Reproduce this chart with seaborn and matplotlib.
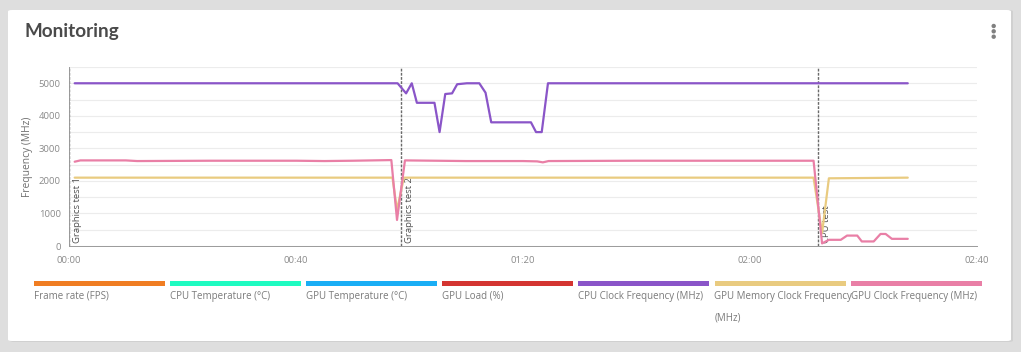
import matplotlib
matplotlib.use("Agg")
import matplotlib.pyplot as plt
from matplotlib.patches import FancyBboxPatch, Rectangle, Ellipse
import pandas as pd
import seaborn as sns

# series shown in the legend (order = draw order)
series_names = ["Frame rate (FPS)", "CPU Temperature (°C)", "GPU Temperature (°C)", "GPU Load (%)",
                "CPU Clock Frequency (MHz)", "GPU Memory Clock Frequency\n(MHz)", "GPU Clock Frequency (MHz)"]
series_colors = ["#f07d22", "#1ffbc1", "#1aaef5", "#d43531", "#8a55c8", "#e9cb80", "#e97fa6"]

# time in minutes
cpu_clock_t = [1, 57.9, 59.4, 60.4, 61.3, 64.4, 65.3, 66.3, 67.5, 68.4, 70.1, 72.3, 73.4, 74.4,
               81.4, 82.3, 83.3, 84.4, 147.8]
cpu_clock_v = [5000, 5000, 4690, 5000, 4400, 4400, 3500, 4670, 4690, 4970, 5000, 5000, 4710, 3800,
               3800, 3500, 3500, 5000, 5000]

gpu_mem_t = [1, 57.0, 57.8, 59.0, 131.2, 132.7, 133.9, 147.8]
gpu_mem_v = [2100, 2100, 1100, 2100, 2100, 400, 2080, 2100]

gpu_clock_t = [1, 2, 10, 12, 25, 40, 45, 50, 56.8, 57.8, 59.2, 70, 80, 82.5, 83.5, 84.5, 100, 120,
               131.2, 132.7, 133.9, 136, 137.1, 138.9, 139.7, 141.8, 143, 143.9, 145, 147.8]
gpu_clock_v = [2590, 2630, 2630, 2610, 2620, 2620, 2610, 2620, 2640, 800, 2630, 2610, 2610, 2600,
               2570, 2610, 2620, 2620, 2620, 80, 190, 190, 320, 320, 140, 140, 370, 370, 220, 220]

markers_t = [0, 58.5, 132.0]
markers_label = ["Graphics test 1", "Graphics test 2", "CPU test"]

x_ticks = [0, 40, 80, 120, 160]
x_ticklabels = ["00:00", "00:40", "01:20", "02:00", "02:40"]
y_ticks = [0, 1000, 2000, 3000, 4000, 5000]

frames = []
for name, t, v in [(series_names[4], cpu_clock_t, cpu_clock_v),
                   (series_names[5], gpu_mem_t, gpu_mem_v),
                   (series_names[6], gpu_clock_t, gpu_clock_v)]:
    frames.append(pd.DataFrame({"t": t, "v": v, "series": name}))
df = pd.concat(frames, ignore_index=True)

sns.set_style("white")
plt.rcParams["font.family"] = ["Open Sans", "DejaVu Sans"]

W, H = 1021, 352
fig = plt.figure(figsize=(W / 100, H / 100), dpi=100)
fig.patch.set_facecolor("#dedede")

# card
fig.patches.append(FancyBboxPatch((10 / W, 10 / H), 1003 / W, 332 / H,
                                  boxstyle="round,pad=0,rounding_size=0.004",
                                  transform=fig.transFigure, fc="#d0d0d0", ec="none", zorder=-2))
fig.patches.append(FancyBboxPatch((8 / W, 11 / H), 1003 / W, 331 / H,
                                  boxstyle="round,pad=0,rounding_size=0.004",
                                  transform=fig.transFigure, fc="white", ec="none", zorder=-1))

fig.text(24 / W, 1 - 32 / H, "Monitoring", fontsize=13.6, fontweight="bold", color="#4a4a4a",
         family=["Lato", "DejaVu Sans"], va="center", ha="left")
for yy in [26, 31.3, 36.7]:
    fig.patches.append(Ellipse((993.7 / W, 1 - yy / H), 4.4 / W, 4.4 / H, transform=fig.transFigure,
                               fc="#808080", ec="none"))

ax = fig.add_axes([69 / W, 1 - 246 / H, (977 - 69) / W, (246 - 67) / H])
ax.set_facecolor("none")

palette = dict(zip(series_names, series_colors))
sns.lineplot(data=df, x="t", y="v", hue="series", hue_order=series_names[4:], palette=palette,
             legend=False, sort=False, linewidth=1.6, ax=ax, zorder=3)

ax.set_xlim(0, 160)
ax.set_ylim(0, 5500)
ax.set_yticks(y_ticks)
ax.set_yticks(range(500, 5501, 1000), minor=True)
ax.set_xticks(x_ticks)
ax.set_xticklabels(x_ticklabels)
ax.grid(True, which="both", axis="y", color="#ececec", linewidth=0.8)
ax.tick_params(axis="both", labelsize=6.8, labelcolor="#8a8a8a", color="#9a9a9a", length=4, width=0.7)
ax.tick_params(axis="y", which="minor", length=0)
ax.tick_params(axis="x", pad=3)
ax.tick_params(axis="y", pad=2)
for s in ["top", "right"]:
    ax.spines[s].set_visible(False)
for s in ["left", "bottom"]:
    ax.spines[s].set_color("#9a9a9a")
    ax.spines[s].set_linewidth(0.7)
ax.set_xlabel("")
ax.set_ylabel("Frequency (MHz)", fontsize=7.4, color="#707070", labelpad=4)

for t, lab in zip(markers_t, markers_label):
    ax.axvline(t, color="#6a6a6a", linestyle=(0, (2, 1)), linewidth=1.0, zorder=2)
    ax.text(t + 0.75, 90, lab, rotation=90, fontsize=6.8, color="#505050", ha="left", va="bottom", zorder=2)

# legend
for i, (name, col) in enumerate(zip(series_names, series_colors)):
    x0 = 34 + i * 136.1
    fig.patches.append(Rectangle((x0 / W, 1 - 286 / H), 131 / W, 5 / H, transform=fig.transFigure,
                                 fc=col, ec="none"))
    fig.text(x0 / W, 1 - 291 / H, name, fontsize=7, color="#7a7a7a", ha="left", va="top",
             linespacing=2.3)

fig.savefig("out.png", dpi=100)
